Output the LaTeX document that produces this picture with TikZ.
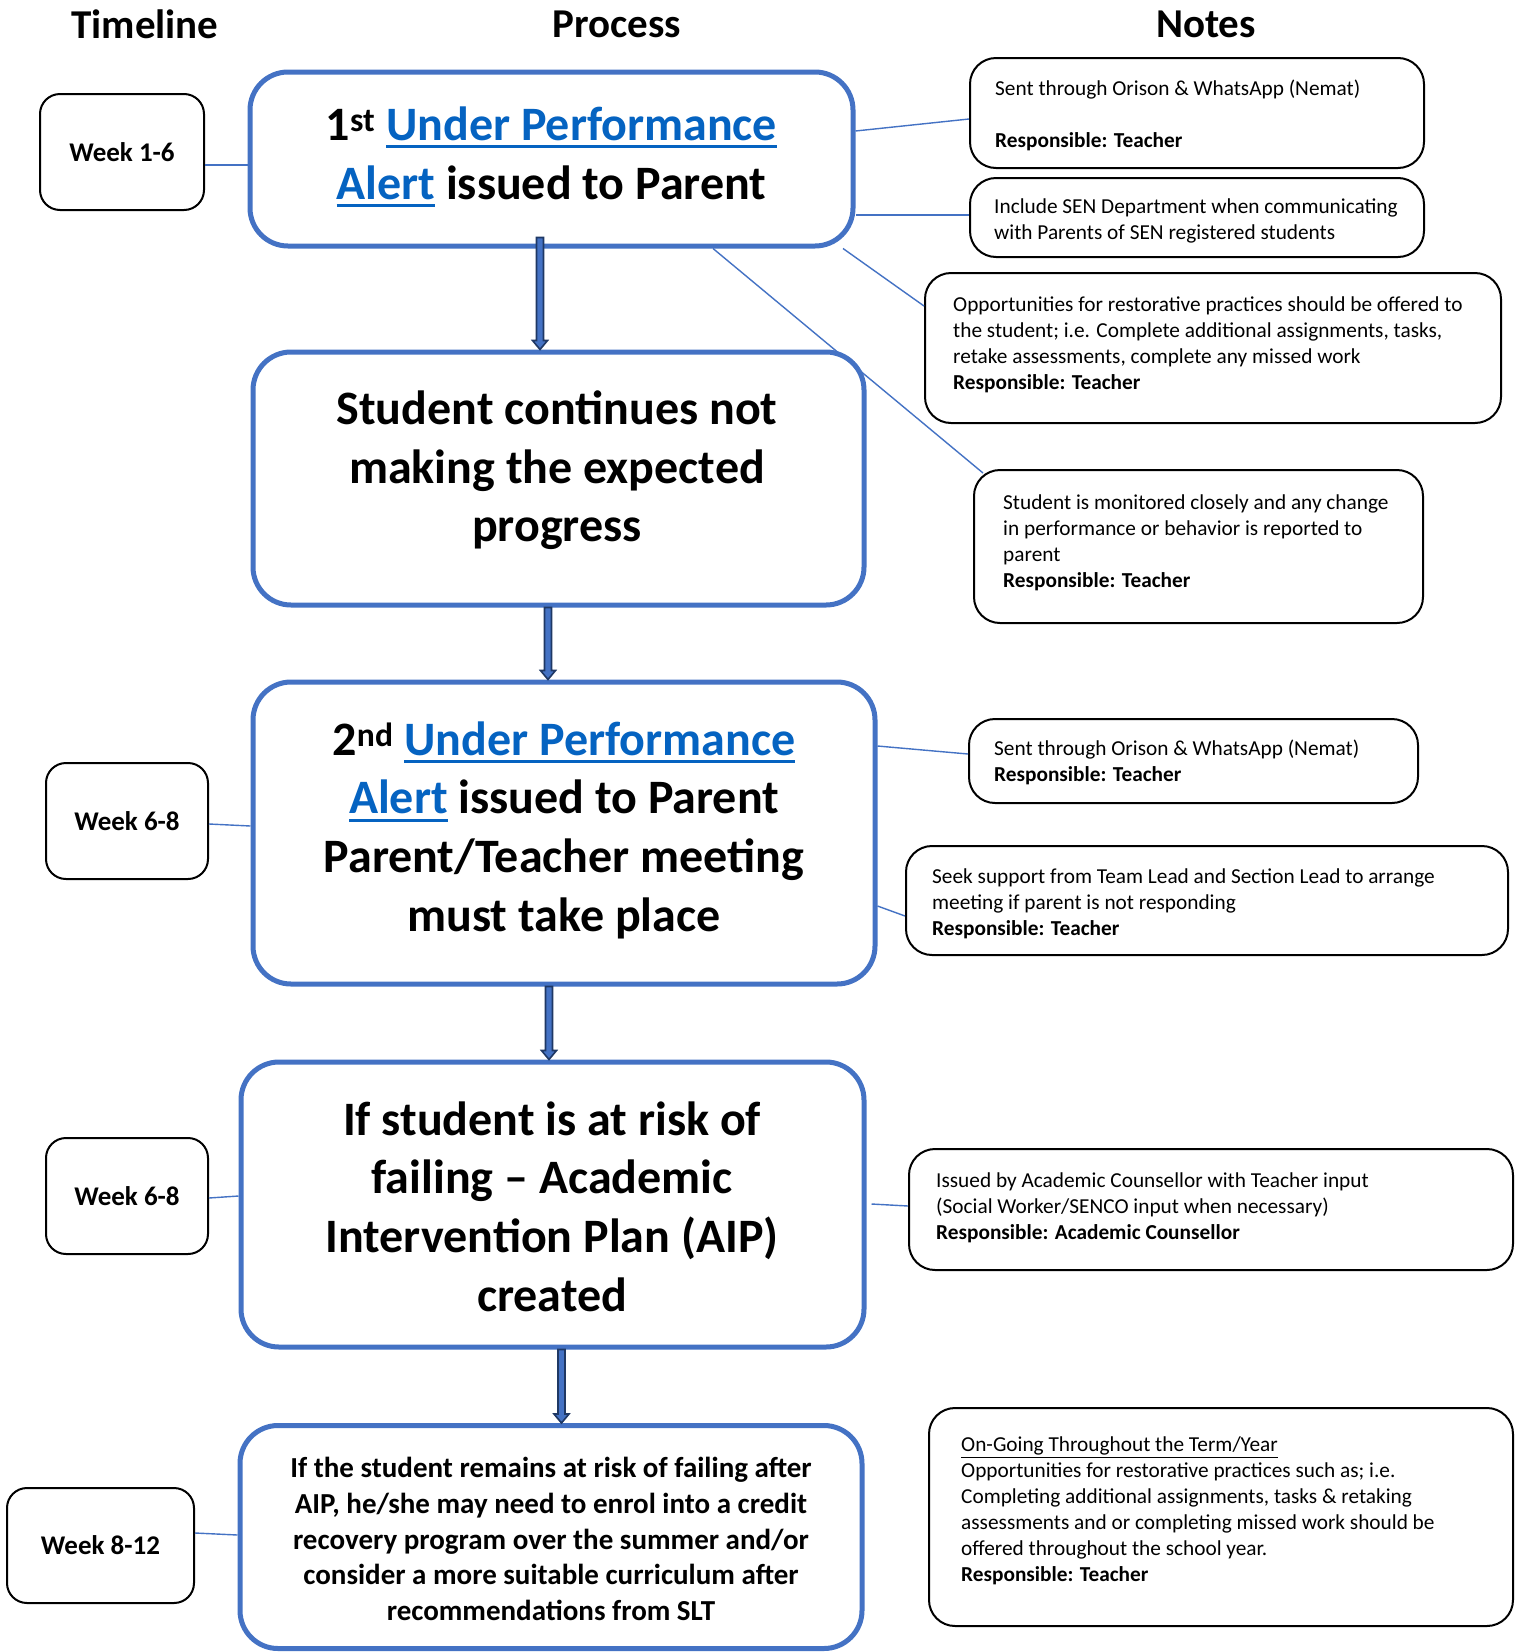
\documentclass[tikz,border=0pt]{standalone}
\usepackage{fontspec}
\setmainfont{Carlito}
\usetikzlibrary{calc}
\definecolor{boxblue}{HTML}{4472C4}
\definecolor{arrnavy}{HTML}{1F3864}
\definecolor{linkblue}{HTML}{0563C1}
\newcommand\lnk[1]{{\color{linkblue}\setbox0\hbox{#1}\rlap{\rule[-8pt]{\wd0}{3pt}}\box0}}
\newcommand\blockarrow[2]{%
  \draw[blockarr] let \p1=(#1), \p2=(#2) in
   (\x1-3.5pt,\y1) -- (\x1+3.5pt,\y1) -- (\x1+3.5pt,\y2+9pt) -- (\x1+7.5pt,\y2+9pt)
   -- (\x1,\y2) -- (\x1-7.5pt,\y2+9pt) -- (\x1-3.5pt,\y2+9pt) -- cycle;}
\tikzset{
  bluebox/.style={draw=boxblue, line width=5pt, rounded corners=38pt, fill=white, inner sep=0pt},
  weekbox/.style={draw=black, line width=2pt, rounded corners=20pt, fill=white, inner sep=0pt,
     font=\fontsize{27pt}{33pt}\selectfont\bfseries},
  notebox/.style={draw=black, line width=2pt, rounded corners=26pt, fill=white, inner sep=0pt},
  bigtext/.style={inner sep=0pt, align=center, font=\fontsize{48pt}{58.6pt}\selectfont\bfseries},
  midtext/.style={inner sep=0pt, align=center, font=\fontsize{29pt}{35.8pt}\selectfont\bfseries},
  notetext/.style={inner sep=0pt, anchor=west, align=left, font=\fontsize{21.3pt}{26pt}\selectfont},
  header/.style={inner sep=0pt, font=\fontsize{41pt}{50pt}\selectfont\bfseries},
  conn/.style={draw=boxblue, line width=1.4pt},
  blockarr/.style={draw=arrnavy, fill=boxblue, line width=1.6pt, line join=miter}
}
\begin{document}
\begin{tikzpicture}[x=1pt,y=-1pt]
\useasboundingbox (0,0) rectangle (1518,1652);
\fill[white] (0,0) rectangle (1518,1652);

% headers
\node[header] (hT) at (145,24) {Timeline};
\node[header] (hP) at (617,24) {Process};
\node[header] (hN) at (1206,24) {Notes};

% process boxes
\node[bluebox, minimum width=603pt, minimum height=174pt] (b1) at (551.5,159) {};
\node[bluebox, minimum width=611pt, minimum height=253pt] (b2) at (558.5,478.5) {};
\node[bluebox, minimum width=622pt, minimum height=302pt] (b3) at (564,833) {};
\node[bluebox, minimum width=623pt, minimum height=285pt] (b4) at (552.5,1204.5) {};
\node[bluebox, minimum width=622pt, minimum height=223pt] (b5) at (551,1537) {};

\node[bigtext] (t1) at (551.5,158) {\strut 1\textsuperscript{st} \lnk{Under Performance}\\ \lnk{Alert} issued to Parent\strut};
\node[bigtext] (t2) at (557,471.5) {\strut Student continues not\\ making the expected\\ progress\strut};
\node[bigtext] (t3) at (564,831.5) {\strut 2\textsuperscript{nd} \lnk{Under Performance}\\ \lnk{Alert} issued to Parent\\ Parent/Teacher meeting\\ must take place\strut};
\node[bigtext] (t4) at (552,1211.5) {\strut If student is at risk of\\ failing – Academic\\ Intervention Plan (AIP)\\ created\strut};
\node[midtext] (t5) at (551,1542) {\strut If the student remains at risk of failing after\\ AIP, he/she may need to enrol into a credit\\ recovery program over the summer and/or\\ consider a more suitable curriculum after\\ recommendations from SLT\strut};

% week boxes
\node[weekbox, minimum width=164pt, minimum height=116pt] (w1) at (122,152) {Week 1-6};
\node[weekbox, minimum width=162pt, minimum height=116pt] (w2) at (127,821) {Week 6-8};
\node[weekbox, minimum width=162pt, minimum height=116pt] (w3) at (127,1196) {Week 6-8};
\node[weekbox, minimum width=187pt, minimum height=115pt] (w4) at (100.5,1545.5) {Week 8-12};

% note boxes
\node[notebox, minimum width=454pt, minimum height=110pt] (n1) at (1197,113) {};
\node[notebox, minimum width=454pt, minimum height=79pt] (n2) at (1197,217.5) {};
\node[notebox, minimum width=576pt, minimum height=150pt] (n3) at (1213,348) {};
\node[notebox, minimum width=449pt, minimum height=153pt] (n4) at (1198.5,546.5) {};
\node[notebox, minimum width=449pt, minimum height=84pt] (n5) at (1193.5,761) {};
\node[notebox, minimum width=602pt, minimum height=109pt] (n6) at (1207,900.5) {};
\node[notebox, minimum width=604pt, minimum height=121pt] (n7) at (1211,1209.5) {};
\node[notebox, minimum width=584pt, minimum height=218pt] (n8) at (1221,1517) {};

\node[notetext] (m1) at (995,116) {\strut Sent through Orison \& WhatsApp (Nemat)\\[26pt] \textbf{Responsible: Teacher}\strut};
\node[notetext] (m2) at (994,221.5) {\strut Include SEN Department when communicating\\ with Parents of SEN registered students\strut};
\node[notetext] (m3) at (953,345.5) {\strut Opportunities for restorative practices should be offered to\\ the student; i.e. Complete additional assignments, tasks,\\ retake assessments, complete any missed work\\ \textbf{Responsible: Teacher}\strut};
\node[notetext] (m4) at (1003,543.5) {\strut Student is monitored closely and any change\\ in performance or behavior is reported to\\ parent\\ \textbf{Responsible: Teacher}\strut};
\node[notetext] (m5) at (994,763) {\strut Sent through Orison \& WhatsApp (Nemat)\\ \textbf{Responsible: Teacher}\strut};
\node[notetext] (m6) at (932,904) {\strut Seek support from Team Lead and Section Lead to arrange\\ meeting if parent is not responding\\ \textbf{Responsible: Teacher}\strut};
\node[notetext] (m7) at (936,1208.5) {\strut Issued by Academic Counsellor with Teacher input\\ (Social Worker/SENCO input when necessary)\\ \textbf{Responsible: Academic Counsellor}\strut};
\node[notetext] (m8) at (961,1511.5) {\strut \underline{On-Going Throughout the Term/Year}\\ Opportunities for restorative practices such as; i.e.\\ Completing additional assignments, tasks \& retaking\\ assessments and or completing missed work should be\\ offered throughout the school year.\\ \textbf{Responsible: Teacher}\strut};

% connectors
\draw[conn] (w1.east |- 0,165) -- (b1.west |- 0,165);
\draw[conn] (b1.east |- 0,131) -- (n1.west |- 0,119);
\draw[conn] (b1.east |- 0,215) -- (n2.west |- 0,215);
\draw[conn] (b1.south -| 843,0) -- (n3.west |- 0,306);
\draw[conn] (b1.south -| 713,0) -- ([shift={(10,4)}]n4.north west);
\draw[conn] (w2.east |- 0,824) -- (b3.west |- 0,826);
\draw[conn] (b3.east |- 0,746) -- (n5.west |- 0,754);
\draw[conn] (b3.east |- 0,906) -- (n6.west |- 0,916);
\draw[conn] (w3.east |- 0,1198) -- (b4.west |- 0,1196);
\draw[conn] ([xshift=5pt]b4.east |- 0,1204) -- (n7.west |- 0,1206);
\draw[conn] (w4.east |- 0,1533) -- (b5.west |- 0,1535);

% process arrows
\blockarrow{[xshift=-11.5pt,yshift=11pt]b1.south}{b2.north}
\blockarrow{[xshift=-10.5pt]b2.south}{b3.north}
\blockarrow{[xshift=-15pt]b3.south}{b4.north}
\blockarrow{[xshift=9pt]b4.south}{b5.north}
\end{tikzpicture}
\end{document}
